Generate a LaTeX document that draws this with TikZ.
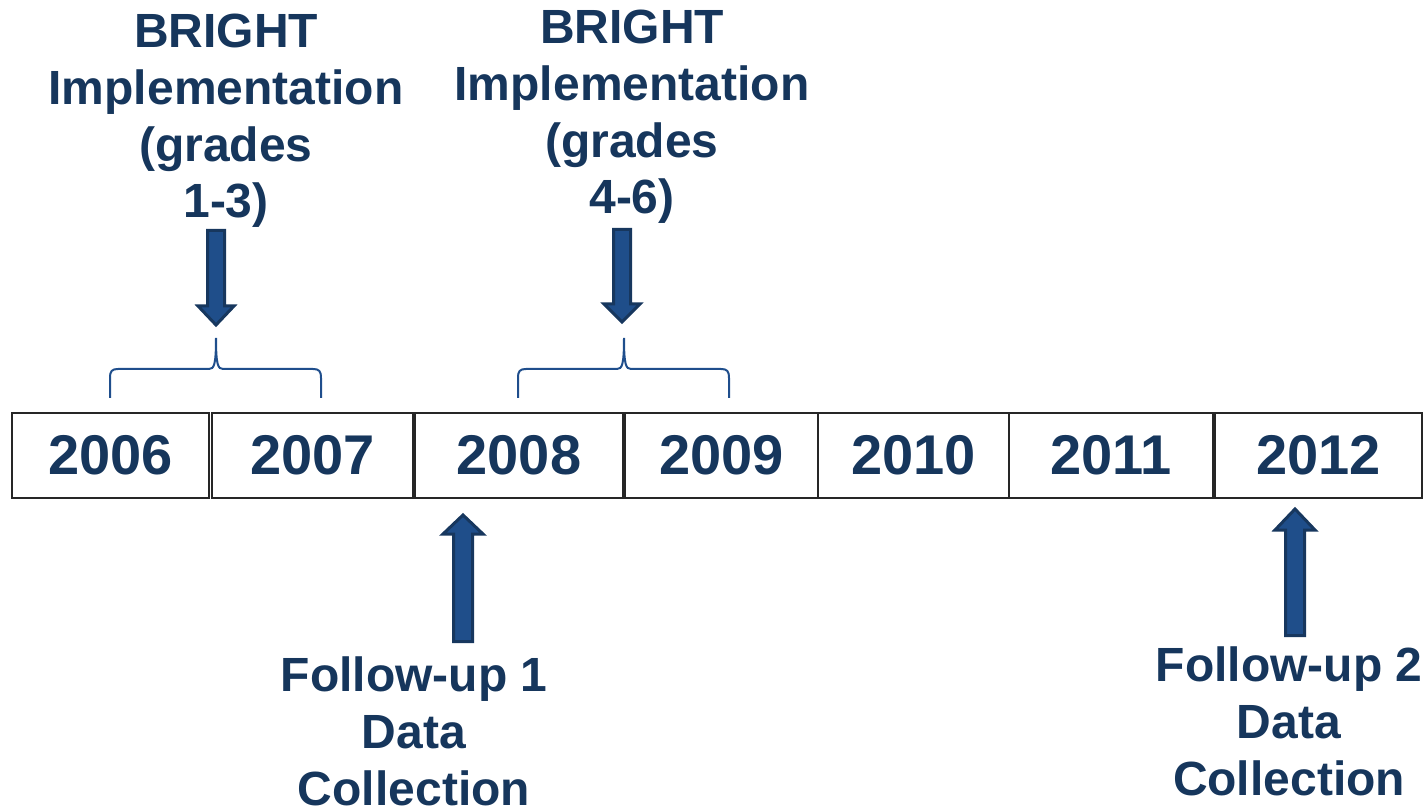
\documentclass[tikz,border=0pt]{standalone}
\usepackage{fontspec}
\setmainfont{Liberation Sans}
\definecolor{navytext}{HTML}{16365C}
\definecolor{arrowfill}{HTML}{1F4E8A}
\definecolor{arrowedge}{HTML}{17375E}
\definecolor{bracecol}{HTML}{1F4E8C}
\begin{document}
\begin{tikzpicture}[x=1pt,y=-1pt,
  yearbox/.style={draw=black!85,line width=1.3pt,minimum height=85pt,inner sep=0pt,
    font=\fontsize{56}{60}\selectfont\bfseries,text=navytext},
  caption/.style={align=center,inner sep=0pt,anchor=base,
    font=\fontsize{48}{56.7}\selectfont\bfseries,text=navytext},
  blockarrow/.style={fill=arrowfill,draw=arrowedge,line width=3pt,line join=miter},
  bracket/.style={draw=bracecol,line width=2pt}]
\useasboundingbox (0,0) rectangle (1428,810);

% year boxes
\node[yearbox,minimum width=197pt] (y2006) at (110.5,455.5) {2006};
\node[yearbox,minimum width=201pt] (y2007) at (312.5,455.5) {2007};
\node[yearbox,minimum width=208pt] (y2008) at (519,455.5) {2008};
\node[yearbox,minimum width=193pt] (y2009) at (721.5,455.5) {2009};
\node[yearbox,minimum width=191pt] (y2010) at (913.5,455.5) {2010};
\node[yearbox,minimum width=204pt] (y2011) at (1111,455.5) {2011};
\node[yearbox,minimum width=207pt] (y2012) at (1318.5,455.5) {2012};

% captions (base anchor sits on the last line)
\node[caption] (impl1) at (226,218) {BRIGHT\\Implementation\\(grades\\1-3)};
\node[caption] (impl2) at (632,214) {BRIGHT\\Implementation\\(grades\\4-6)};
\node[caption] (fu1) at (414,805) {Follow-up 1\\Data\\Collection};
\node[caption] (fu2) at (1289,795) {Follow-up 2\\Data\\Collection};

% downward block arrows
\draw[blockarrow] (207.5,230.5) -- (224.5,230.5) -- (224.5,306) -- (234,306) -- (216,325)
  -- (198,306) -- (207.5,306) -- cycle;
\draw[blockarrow] (613.5,229.5) -- (630.5,229.5) -- (630.5,304) -- (640,304) -- (622,322)
  -- (604,304) -- (613.5,304) -- cycle;

% upward block arrows
\draw[blockarrow] (453.5,641.5) -- (472.5,641.5) -- (472.5,534) -- (483,534) -- (463,515)
  -- (443,534) -- (453.5,534) -- cycle;
\draw[blockarrow] (1285.5,635.5) -- (1304.5,635.5) -- (1304.5,530) -- (1315,530) -- (1295,509)
  -- (1275,530) -- (1285.5,530) -- cycle;

% braces over 2006-2007 and 2008-2009
\draw[bracket] (110,398) -- (110,378) .. controls (110,371) and (112,369) .. (118,369)
  -- (209,369) .. controls (214,369) and (216,365) .. (216,338)
  .. controls (216,365) and (218,369) .. (223,369) -- (313,369)
  .. controls (319,369) and (321,371) .. (321,378) -- (321,398);
\draw[bracket] (518,398) -- (518,378) .. controls (518,371) and (520,369) .. (526,369)
  -- (617,369) .. controls (622,369) and (624,365) .. (624,338)
  .. controls (624,365) and (626,369) .. (631,369) -- (721,369)
  .. controls (727,369) and (729,371) .. (729,378) -- (729,398);
\end{tikzpicture}
\end{document}
